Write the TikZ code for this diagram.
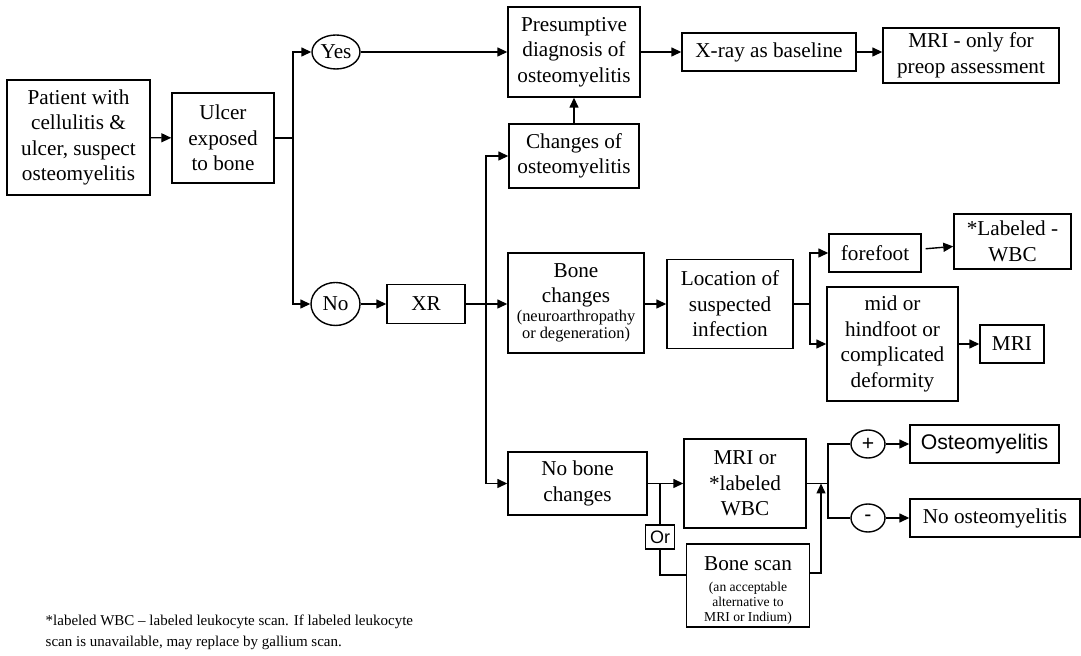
\documentclass[tikz,border=0pt]{standalone}
\usepackage{fontspec}
\setmainfont{Liberation Serif}
\setsansfont{Liberation Sans}
\usetikzlibrary{positioning,arrows.meta,shapes}

\newcommand{\boxfont}{\fontsize{10.6}{12.7}\selectfont}
\newcommand{\notefont}{\fontsize{8.2}{9}\selectfont}
\newcommand{\scanfont}{\fontsize{6.8}{7.5}\selectfont}
\newcommand{\footfont}{\fontsize{7.5}{10.5}\selectfont}

\begin{document}
\begin{tikzpicture}[
    x = 0.5pt, y = -0.5pt,
    > = {Triangle[length=5pt, width=4.5pt]},
    line width = 0.7pt,
    box/.style={draw, align=center, inner sep=0pt, font=\boxfont},
    choice/.style={draw, ellipse, inner sep=0pt, font=\boxfont},
    sign/.style={draw, ellipse, inner sep=0pt, minimum width=17pt, minimum height=14pt, font=\sffamily\boxfont}
]
    \useasboundingbox (0,0) rectangle (1081,656);

    % first column
    \node[box, minimum width=71.5pt, minimum height=57.5pt] (patient) at (78.5,137.5) {Patient with\\cellulitis \&\\ulcer, suspect\\osteomyelitis};
    \node[box, minimum width=51pt, minimum height=45pt] (ulcer) at (223,138) {Ulcer\\exposed\\to bone};
    \node[choice, minimum width=24pt, minimum height=17pt] (yes) at (336,52) {Yes};
    \node[choice, minimum width=24.5pt, minimum height=21.5pt] (no) at (335.5,304) {No};
    \node[box, minimum width=39pt, minimum height=19.5pt] (xr) at (426,304) {XR};

    % yes branch
    \node[box, minimum width=66pt, minimum height=45pt] (presump) at (574,52) {Presumptive\\diagnosis of\\osteomyelitis};
    \node[box, minimum width=87pt, minimum height=19pt] (xray) at (769,52) {X-ray as baseline};
    \node[box, minimum width=88pt, minimum height=27.5pt] (mripre) at (971,55.5) {MRI - only for\\preop assessment};
    \node[box, minimum width=65pt, minimum height=32pt] (changes) at (574,156) {Changes of\\osteomyelitis};

    % bone changes
    \node[box, minimum width=68pt, minimum height=50pt] (bonechg) at (576,303) {Bone\\changes\\[-3.6pt]\notefont(neuroarthropathy\\[-3.9pt]\notefont or degeneration)};
    \node[box, minimum width=63pt, minimum height=44.5pt] (location) at (730,304) {Location of\\suspected\\infection};
    \node[box, minimum width=46pt, minimum height=19pt] (forefoot) at (875,253) {forefoot};
    \node[box, minimum width=58.5pt, minimum height=27.5pt] (labeled) at (1012.5,241.5) {*Labeled -\\WBC};
    \node[box, minimum width=65.5pt, minimum height=57pt] (mid) at (892.5,344) {mid or\\hindfoot or\\complicated\\deformity};
    \node[box, minimum width=32pt, minimum height=19pt] (mri) at (1012,344) {MRI};

    % no bone changes
    \node[box, minimum width=69.5pt, minimum height=31.5pt] (nobone) at (577.5,483.5) {No bone\\changes};
    \node[box, minimum width=61pt, minimum height=44.5pt] (mrior) at (745,483.5) {MRI or\\*labeled\\WBC};
    \node[box, minimum width=14.5pt, minimum height=12pt, font=\sffamily\fontsize{9}{10}\selectfont] (orbox) at (660,537) {Or};
    \node[box, minimum width=61.5pt, minimum height=41.5pt] (bonescan) at (748,585.5) {\mbox{}\\[-0.7pt]Bone scan\\[-2.2pt]\scanfont(an acceptable\\[-5.4pt]\scanfont alternative to\\[-5.4pt]\scanfont MRI or Indium)};
    \node[sign] (plus) at (868,444) {+};
    \node[sign] (minus) at (868,518) {-};
    \node[box, minimum width=74.5pt, minimum height=19pt, font=\sffamily\boxfont] (osteo) at (984.5,444) {Osteomyelitis};
    \node[box, minimum width=85pt, minimum height=19pt] (noosteo) at (995,518) {No osteomyelitis};

    \node[anchor=west, align=left, inner sep=0pt, font=\footfont] (footnote) at (45,632) {*labeled WBC -- labeled leukocyte scan. If labeled leukocyte\\scan is unavailable, may replace by gallium scan.};

    % branch points
    \coordinate (s1) at (293,138);
    \coordinate (s2) at (486,304);
    \coordinate (s3) at (810,304);
    \coordinate (s4) at (660,483.5);
    \coordinate (s5) at (828,483.5);
    \coordinate (s6) at (821,483.5);

    \path[->]
        (patient) edge (ulcer)
        (yes) edge (presump)
        (no) edge (xr)
        (xr) edge (bonechg.west |- xr)
        (changes) edge (presump)
        (presump) edge (xray)
        (bonechg.east |- location) edge (location)
        (forefoot) edge[shorten <=2pt] (labeled)
        (mid) edge (mri)
        (nobone) edge (mrior)
        (plus) edge (osteo)
        (minus) edge (noosteo);
    \draw[->] (xray.east) -- (xray.east -| mripre.west);

    \draw (ulcer) -- (s1);
    \draw[->] (s1) |- (yes);
    \draw[->] (s1) |- (no);
    \draw[->] (s2) |- (changes);
    \draw[->] (s2) |- (nobone);
    \draw (location) -- (s3);
    \draw[->] (s3) |- (forefoot);
    \draw[->] (s3) |- (mid);
    \draw (s4) -- (orbox);
    \draw (orbox) |- ([yshift=5.25pt]bonescan.west);
    \draw (mrior) -- (s5);
    \draw (s5) |- (plus);
    \draw (s5) |- (minus);
    \draw[->] ([yshift=6.25pt]bonescan.east) -| (s6);
\end{tikzpicture}
\end{document}
